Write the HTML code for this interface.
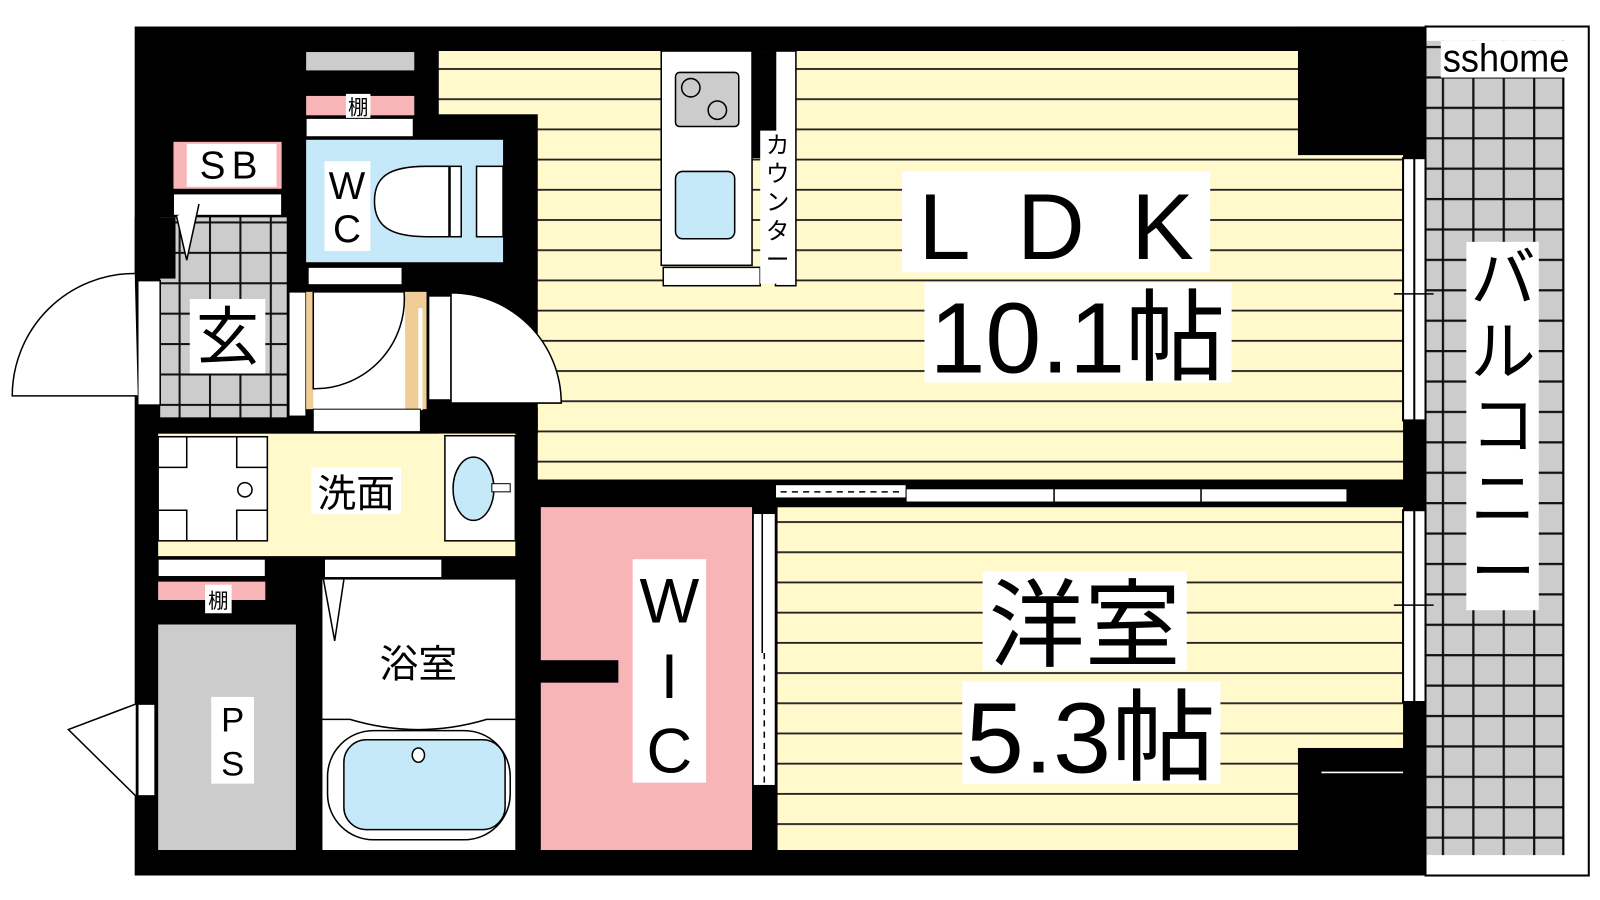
<!DOCTYPE html>
<html><head><meta charset="utf-8"><style>
html,body{margin:0;padding:0;background:#fff;width:1600px;height:900px;overflow:hidden}
svg{display:block}
text{font-family:"Liberation Sans","Noto Sans CJK JP",sans-serif;fill:#000}
</style></head><body>
<svg width="1600" height="900" viewBox="0 0 1568 882" preserveAspectRatio="none" xmlns="http://www.w3.org/2000/svg">
<defs>
<pattern id="st" patternUnits="userSpaceOnUse" x="0" y="7.5" width="40" height="29.6">
<rect width="40" height="29.6" fill="#fff9cc"/><rect y="0" width="40" height="1.8" fill="#222"/>
</pattern>
<pattern id="tile" patternUnits="userSpaceOnUse" x="175" y="217" width="29.8" height="29.8">
<rect width="30" height="30" fill="#cccccc"/><rect width="2" height="30" fill="#111"/><rect width="30" height="2" fill="#111"/>
</pattern>
<pattern id="btile" patternUnits="userSpaceOnUse" x="1413" y="45" width="29.8" height="29.8">
<rect width="30" height="30" fill="#cccccc"/><rect width="2.2" height="30" fill="#111"/><rect width="30" height="2.2" fill="#111"/>
</pattern>
</defs>

<rect x="132" y="26" width="1265" height="832" fill="#000"/>

<rect x="1397" y="26" width="160" height="832" fill="#fff" stroke="#000" stroke-width="2"/>
<rect x="1398" y="40" width="135" height="798" fill="url(#btile)"/>
<rect x="1531" y="40" width="2" height="798" fill="#000"/>
<rect x="1412" y="40" width="130" height="36" fill="#fff"/>
<text x="1476" y="70" font-size="38" text-anchor="middle" textLength="124" lengthAdjust="spacingAndGlyphs">sshome</text>
<rect x="1437" y="237" width="71" height="361" fill="#fff"/>
<text x="1473" y="295" font-size="64" text-anchor="middle">バ</text>
<text x="1473" y="367" font-size="64" text-anchor="middle">ル</text>
<text x="1473" y="439" font-size="64" text-anchor="middle">コ</text>
<text x="1473" y="511" font-size="64" text-anchor="middle">ニ</text>
<text x="1473" y="583" font-size="64" text-anchor="middle">ー</text>

<rect x="430" y="50" width="945" height="420" fill="url(#st)"/>
<rect x="415" y="112" width="112" height="290" fill="#000"/>
<rect x="415" y="400" width="112" height="25" fill="#000"/>
<rect x="505" y="400" width="22" height="145" fill="#000"/>
<rect x="1272" y="26" width="125" height="126" fill="#000"/>
<rect x="762" y="497" width="613" height="336" fill="url(#st)"/>
<rect x="1272" y="733" width="125" height="125" fill="#000"/>
<line x1="1295" y1="757" x2="1375" y2="757" stroke="#fff" stroke-width="1.5"/>

<rect x="1375" y="155" width="22" height="257" fill="#fff" stroke="#000" stroke-width="2"/>
<line x1="1386" y1="155" x2="1386" y2="412" stroke="#000" stroke-width="2"/>
<line x1="1366" y1="288" x2="1405" y2="288" stroke="#000" stroke-width="1.5"/>
<rect x="1375" y="500" width="22" height="188" fill="#fff" stroke="#000" stroke-width="2"/>
<line x1="1386" y1="500" x2="1386" y2="688" stroke="#000" stroke-width="2"/>
<line x1="1366" y1="593" x2="1405" y2="593" stroke="#000" stroke-width="1.5"/>

<rect x="527" y="470" width="848" height="27" fill="#000"/>
<rect x="760" y="475" width="128" height="13" fill="#fff" stroke="#000"/>
<line x1="765" y1="482" x2="885" y2="482" stroke="#000" stroke-width="1.5" stroke-dasharray="6,5"/>
<rect x="888" y="479" width="432" height="13" fill="#fff" stroke="#000"/>
<line x1="1033" y1="475" x2="1033" y2="496" stroke="#000" stroke-width="1.5"/>
<line x1="1177" y1="475" x2="1177" y2="496" stroke="#000" stroke-width="1.5"/>

<rect x="648" y="50" width="89" height="210" fill="#fff" stroke="#000" stroke-width="1.5"/>
<rect x="662" y="71" width="62" height="53" rx="4" fill="#ccc" stroke="#000" stroke-width="1.5"/>
<circle cx="677" cy="86" r="9" fill="none" stroke="#000" stroke-width="1.5"/>
<circle cx="703" cy="108" r="9" fill="none" stroke="#000" stroke-width="1.5"/>
<rect x="662" y="168" width="58" height="66" rx="7" fill="#c5e9f8" stroke="#000" stroke-width="1.5"/>
<rect x="650" y="262" width="95" height="18" fill="#fff" stroke="#000" stroke-width="1.5"/>
<rect x="737" y="50" width="26" height="105" fill="#000"/>
<rect x="760" y="50" width="20" height="230" fill="#fff" stroke="#000" stroke-width="1.5"/>
<rect x="745" y="128" width="24" height="150" fill="#fff"/>
<text x="762" y="150" font-size="23" text-anchor="middle">カ</text>
<text x="762" y="178" font-size="23" text-anchor="middle">ウ</text>
<text x="762" y="206" font-size="23" text-anchor="middle">ン</text>
<text x="762" y="234" font-size="23" text-anchor="middle">タ</text>
<text x="762" y="262" font-size="23" text-anchor="middle">ー</text>

<rect x="884" y="168" width="302" height="99" fill="#fff"/>
<text x="1035" y="254" font-size="92" text-anchor="middle" textLength="270" lengthAdjust="spacing">LDK</text>
<rect x="906" y="277" width="301" height="98" fill="#fff"/>
<text x="1056" y="365" font-size="98" text-anchor="middle" textLength="290" lengthAdjust="spacingAndGlyphs">10.1帖</text>
<rect x="963" y="560" width="200" height="97" fill="#fff"/>
<text x="1063" y="646" font-size="94" text-anchor="middle">洋室</text>
<rect x="943" y="668" width="253" height="100" fill="#fff"/>
<text x="1069" y="757" font-size="98" text-anchor="middle" textLength="245" lengthAdjust="spacingAndGlyphs">5.3帖</text>

<rect x="300" y="51" width="106" height="18" fill="#ccc"/>
<rect x="300" y="94" width="106" height="19" fill="#f8b5b8"/>
<rect x="339" y="92" width="24" height="26" fill="#fff"/>
<text x="351" y="112" font-size="20" text-anchor="middle">棚</text>
<rect x="300" y="116" width="105" height="18" fill="#fff" stroke="#000" stroke-width="1"/>
<rect x="300" y="137" width="193" height="120" fill="#c5e9f8"/>
<rect x="318" y="158" width="45" height="88" fill="#fff"/>
<text x="340" y="195" font-size="38" text-anchor="middle">W</text>
<text x="340" y="237" font-size="38" text-anchor="middle">C</text>
<path d="M418 163 H440 V232 H418 C380 232 367 220 367 197 C367 174 380 163 418 163 Z" fill="#fff" stroke="#000" stroke-width="1.5"/>
<rect x="441" y="163" width="11" height="69" fill="#fff" stroke="#000" stroke-width="1.5"/>
<rect x="467" y="163" width="26" height="69" fill="#fff" stroke="#000" stroke-width="1.5"/>
<rect x="302" y="262" width="92" height="17" fill="#fff" stroke="#000" stroke-width="1"/>

<rect x="170" y="139" width="106" height="46" fill="#f8b5b8"/>
<rect x="183" y="141" width="88" height="42" fill="#fff"/>
<text x="227" y="175" font-size="38" text-anchor="middle" letter-spacing="6">SB</text>
<rect x="170" y="190" width="106" height="21" fill="#fff" stroke="#000" stroke-width="1"/>
<rect x="157" y="213" width="124" height="196" fill="url(#tile)"/>
<rect x="132" y="213" width="40" height="60" fill="#000"/>
<path d="M173 212 L183 255 L195 200" fill="#fff" stroke="#000" stroke-width="1.5"/>
<rect x="186" y="293" width="74" height="73" fill="#fff"/>
<text x="223" y="352" font-size="62" text-anchor="middle">玄</text>
<rect x="135" y="275" width="22" height="122" fill="#fff" stroke="#000" stroke-width="1.5"/>
<path d="M132 268 A120 120 0 0 0 12 388 H135" fill="#fff" stroke="#000" stroke-width="1.5"/>
<rect x="283" y="286" width="17" height="122" fill="#fff" stroke="#000" stroke-width="1.5"/>
<rect x="300" y="286" width="118" height="115" fill="#f0cd96"/>
<rect x="307" y="286" width="90" height="115" fill="#fff"/>
<path d="M307 381 A88 88 0 0 0 396 286 H307 Z" fill="#fff" stroke="#000" stroke-width="1.5"/>
<rect x="410" y="302" width="4" height="100" fill="#fff"/>
<rect x="307" y="401" width="105" height="22" fill="#fff" stroke="#000" stroke-width="1"/>
<rect x="420" y="290" width="22" height="102" fill="#fff" stroke="#000" stroke-width="1.5"/>
<path d="M442 287 A108 108 0 0 1 550 395 H442 Z" fill="#fff" stroke="#000" stroke-width="1.5"/>

<rect x="155" y="425" width="350" height="120" fill="#fff9cc"/>
<rect x="155" y="428" width="107" height="102" fill="#fff" stroke="#000" stroke-width="1.5"/>
<path d="M155 458 H183 V428 M232 428 V458 H262 M262 500 H232 V530 M183 530 V500 H155" fill="none" stroke="#000" stroke-width="1.5"/>
<circle cx="240" cy="480" r="7" fill="none" stroke="#000" stroke-width="1.5"/>
<rect x="305" y="458" width="88" height="46" fill="#fff"/>
<text x="349" y="497" font-size="38" text-anchor="middle">洗面</text>
<rect x="436" y="427" width="69" height="103" fill="#fff" stroke="#000" stroke-width="1.5"/>
<ellipse cx="464" cy="479" rx="20" ry="31" fill="#c5e9f8" stroke="#000" stroke-width="1.5"/>
<rect x="482" y="474" width="18" height="8" fill="#fff" stroke="#000" stroke-width="1"/>
<rect x="155" y="548" width="105" height="17" fill="#fff" stroke="#000" stroke-width="1"/>
<rect x="318" y="548" width="115" height="18" fill="#fff" stroke="#000" stroke-width="1"/>
<rect x="155" y="570" width="105" height="18" fill="#f8b5b8"/>
<rect x="201" y="573" width="26" height="28" fill="#fff"/>
<text x="214" y="596" font-size="20" text-anchor="middle">棚</text>
<rect x="155" y="612" width="135" height="221" fill="#ccc"/>
<rect x="207" y="683" width="42" height="85" fill="#fff"/>
<text x="228" y="717" font-size="34" text-anchor="middle">P</text>
<text x="228" y="760" font-size="34" text-anchor="middle">S</text>
<rect x="135" y="690" width="17" height="90" fill="#fff" stroke="#000" stroke-width="1.5"/>
<path d="M133 690 L67 715 L133 780" fill="#fff" stroke="#000" stroke-width="1.5"/>
<rect x="316" y="568" width="189" height="265" fill="#fff"/>
<path d="M317 568 L328 628 L337 568" fill="none" stroke="#000" stroke-width="1.5"/>
<rect x="367" y="625" width="86" height="45" fill="#fff"/>
<text x="410" y="664" font-size="38" text-anchor="middle">浴室</text>
<path d="M316 705 H343 Q410 725 477 705 H505" fill="none" stroke="#000" stroke-width="1.5"/>
<rect x="321" y="716" width="179" height="107" rx="45" fill="#fff" stroke="#000" stroke-width="1.5"/>
<rect x="337" y="725" width="158" height="88" rx="22" fill="#c5e9f8" stroke="#000" stroke-width="1.5"/>
<ellipse cx="410" cy="740" rx="6" ry="7" fill="#fff" stroke="#000" stroke-width="1.5"/>

<rect x="530" y="497" width="207" height="336" fill="#f8b5b8"/>
<rect x="527" y="647" width="79" height="22" fill="#000"/>
<rect x="620" y="548" width="72" height="219" fill="#fff"/>
<text x="656" y="610" font-size="62" text-anchor="middle">W</text>
<text x="656" y="684" font-size="62" text-anchor="middle">I</text>
<text x="656" y="757" font-size="62" text-anchor="middle">C</text>
<rect x="738" y="503" width="22" height="267" fill="#fff" stroke="#000" stroke-width="1.5"/>
<line x1="747" y1="503" x2="747" y2="640" stroke="#000" stroke-width="1.5"/>
<line x1="749" y1="640" x2="749" y2="770" stroke="#000" stroke-width="1.5" stroke-dasharray="6,5"/>
</svg>
</body></html>
